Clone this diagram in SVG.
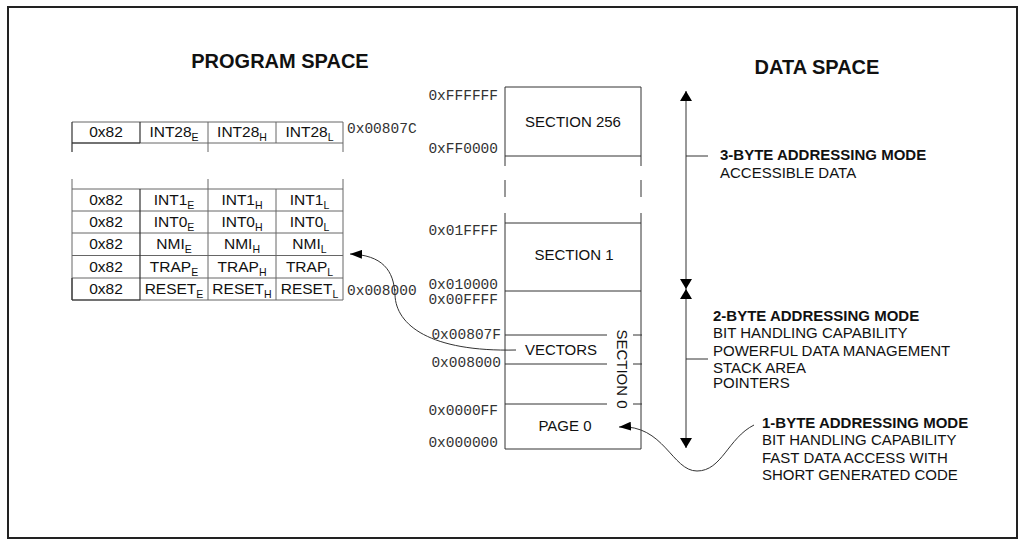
<svg xmlns="http://www.w3.org/2000/svg" width="1024" height="547" viewBox="0 0 1024 547">
<style>
.t{font-family:"Liberation Sans",Arial,sans-serif;font-size:15px;fill:#111}
.tb{font-family:"Liberation Sans",Arial,sans-serif;font-size:15px;font-weight:bold;fill:#111}
.h{font-family:"Liberation Sans",Arial,sans-serif;font-size:20px;font-weight:bold;fill:#111;text-anchor:middle}
.c{font-family:"Liberation Sans",Arial,sans-serif;font-size:15.5px;fill:#111;text-anchor:middle}
.m{font-family:"Liberation Mono","Courier New",monospace;font-size:14.5px;fill:#333}
.me{font-family:"Liberation Mono","Courier New",monospace;font-size:14.5px;fill:#333;text-anchor:end}
.g{stroke:#666;stroke-width:1;fill:none}
.d{stroke:#333;stroke-width:1.2;fill:none}
.ln{stroke:#333;stroke-width:1;fill:none}
</style>
<defs>
<marker id="ah" viewBox="0 0 10 12" refX="10" refY="6" markerWidth="10" markerHeight="12" markerUnits="userSpaceOnUse" orient="auto-start-reverse">
<path d="M0,0 L10,6 L0,12 z" fill="#000"/>
</marker>
<marker id="ah2" viewBox="0 0 12 9" refX="12" refY="4.5" markerWidth="12" markerHeight="9" markerUnits="userSpaceOnUse" orient="auto">
<path d="M0,0 L12,4.5 L0,9 z" fill="#000"/>
</marker>
</defs>
<rect x="8" y="7" width="1009" height="531" fill="#fff" stroke="#222" stroke-width="2"/>

<g id="titles">
<text class="h" x="280" y="68">PROGRAM SPACE</text>
<text class="h" x="817" y="74">DATA SPACE</text>
</g>

<g id="program-table-top">
<path class="g" d="M72,122H343M72,143H343M208,122V152M276,122V143M343,122V152"/>
<path class="d" d="M72,122V152M140,122V143M72,143H140"/>
<text class="c" x="106" y="137">0x82</text>
<text class="c" x="174" y="137">INT28<tspan font-size="10.5" dy="4">E</tspan></text>
<text class="c" x="242" y="137">INT28<tspan font-size="10.5" dy="4">H</tspan></text>
<text class="c" x="309.5" y="137">INT28<tspan font-size="10.5" dy="4">L</tspan></text>
<text class="m" x="347" y="133">0x00807C</text>
</g>

<g id="program-table-bottom">
<path class="g" d="M72,179V300M208,179V300M343,179V300M276,189V300M72,189H343M72,211H343M72,233H343M72,255.5H343M72,278H343M72,300H343"/>
<path class="d" d="M140,189V300M72,278V300M72,300H140"/>
<text class="c" x="106" y="205">0x82</text>
<text class="c" x="174" y="205">INT1<tspan font-size="10.5" dy="4">E</tspan></text>
<text class="c" x="242" y="205">INT1<tspan font-size="10.5" dy="4">H</tspan></text>
<text class="c" x="309.5" y="205">INT1<tspan font-size="10.5" dy="4">L</tspan></text>
<text class="c" x="106" y="227">0x82</text>
<text class="c" x="174" y="227">INT0<tspan font-size="10.5" dy="4">E</tspan></text>
<text class="c" x="242" y="227">INT0<tspan font-size="10.5" dy="4">H</tspan></text>
<text class="c" x="309.5" y="227">INT0<tspan font-size="10.5" dy="4">L</tspan></text>
<text class="c" x="106" y="249">0x82</text>
<text class="c" x="174" y="249">NMI<tspan font-size="10.5" dy="4">E</tspan></text>
<text class="c" x="242" y="249">NMI<tspan font-size="10.5" dy="4">H</tspan></text>
<text class="c" x="309.5" y="249">NMI<tspan font-size="10.5" dy="4">L</tspan></text>
<text class="c" x="106" y="271.5">0x82</text>
<text class="c" x="174" y="271.5">TRAP<tspan font-size="10.5" dy="4">E</tspan></text>
<text class="c" x="242" y="271.5">TRAP<tspan font-size="10.5" dy="4">H</tspan></text>
<text class="c" x="309.5" y="271.5">TRAP<tspan font-size="10.5" dy="4">L</tspan></text>
<text class="c" x="106" y="294">0x82</text>
<text class="c" x="174" y="294">RESET<tspan font-size="10.5" dy="4">E</tspan></text>
<text class="c" x="242" y="294">RESET<tspan font-size="10.5" dy="4">H</tspan></text>
<text class="c" x="309.5" y="294">RESET<tspan font-size="10.5" dy="4">L</tspan></text>
<text class="m" x="347" y="295">0x008000</text>
</g>

<g id="section-256">
<path class="ln" d="M505,87H641M505,87V156M641,87V156M505,156H641"/>
<text class="t" x="573" y="127" text-anchor="middle">SECTION 256</text>
</g>

<g id="section-gap">
<path class="ln" d="M505,156V166M641,156V166M505,180V197M641,180V197M505,213V223M641,213V223"/>
</g>

<g id="section-1">
<path class="ln" d="M505,223H641M505,223V291M641,223V291"/>
<text class="t" x="574" y="260" text-anchor="middle">SECTION 1</text>
</g>

<g id="section-0">
<path class="ln" d="M505,291H641M505,291V449M641,291V449M505,449H641"/>
<path class="ln" d="M505,335H607M633,335H642M505,364H607M633,364H642M505,404H607M633,404H642"/>
<text class="t" x="561" y="355" text-anchor="middle">VECTORS</text>
<text class="t" x="565" y="431" text-anchor="middle">PAGE 0</text>
<text class="t" x="0" y="0" text-anchor="middle" transform="translate(616.5,369) rotate(90)">SECTION 0</text>
</g>

<g id="addresses">
<text class="me" x="498" y="100">0xFFFFFF</text>
<text class="me" x="498" y="152.5">0xFF0000</text>
<text class="me" x="498" y="235">0x01FFFF</text>
<text class="me" x="498" y="289">0x010000</text>
<text class="me" x="498" y="304">0x00FFFF</text>
<text class="me" x="501" y="339">0x00807F</text>
<text class="me" x="501" y="367">0x008000</text>
<text class="me" x="498" y="415">0x0000FF</text>
<text class="me" x="498" y="447">0x000000</text>
</g>

<g id="connectors">
<line class="ln" x1="686" y1="91" x2="686" y2="289" marker-start="url(#ah)" marker-end="url(#ah)"/>
<line class="ln" x1="686" y1="289" x2="686" y2="448" marker-start="url(#ah)" marker-end="url(#ah)"/>
<path class="ln" d="M686,156H708M686,359H708"/>
<path class="ln" d="M516,350 C430,352 396,325 395,295 C394,270 382,255 350,254" marker-end="url(#ah2)"/>
<path class="ln" d="M754,425 C728,438 722,471 697,471 C672,471 664,424 619,427" marker-end="url(#ah2)"/>
</g>

<g id="mode-3byte">
<text class="tb" x="720" y="160">3-BYTE ADDRESSING MODE</text>
<text class="t" x="720" y="177.5">ACCESSIBLE DATA</text>
</g>

<g id="mode-2byte">
<text class="tb" x="713" y="321">2-BYTE ADDRESSING MODE</text>
<text class="t" x="713" y="338">BIT HANDLING CAPABILITY</text>
<text class="t" x="713" y="355.5">POWERFUL DATA MANAGEMENT</text>
<text class="t" x="713" y="372.5">STACK AREA</text>
<text class="t" x="713" y="387.5">POINTERS</text>
</g>

<g id="mode-1byte">
<text class="tb" x="762" y="428">1-BYTE ADDRESSING MODE</text>
<text class="t" x="762" y="445">BIT HANDLING CAPABILITY</text>
<text class="t" x="762" y="463">FAST DATA ACCESS WITH</text>
<text class="t" x="762" y="480">SHORT GENERATED CODE</text>
</g>
</svg>
